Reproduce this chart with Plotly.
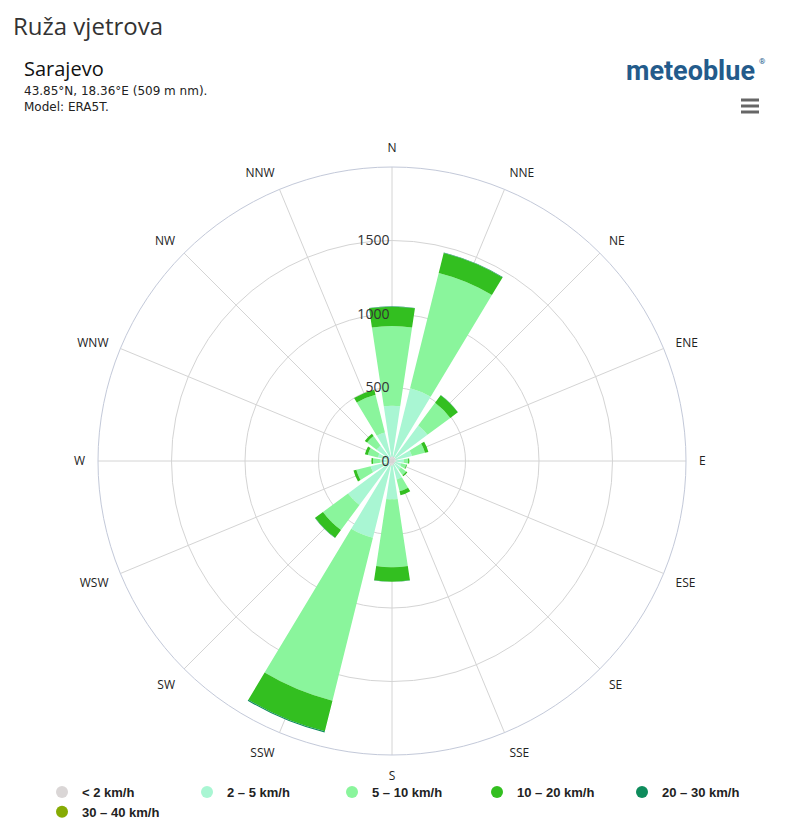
import plotly.graph_objects as go

directions = ["N", "NNE", "NE", "ENE", "E", "ESE", "SE", "SSE",
              "S", "SSW", "SW", "WSW", "W", "WNW", "NW", "NNW"]

speed_bins = ["< 2 km/h", "2 – 5 km/h", "5 – 10 km/h",
              "10 – 20 km/h", "20 – 30 km/h", "30 – 40 km/h"]

# hours per direction for each speed bin
calm_lt2 = [30, 30, 30, 25, 25, 20, 20, 25, 30, 35, 30, 25, 20, 20, 25, 30]
s_2_5 = [346, 480, 270, 115, 55, 45, 55, 105, 231, 503, 342, 125, 60, 80, 105, 170]
s_5_10 = [542, 808, 193, 91, 30, 35, 45, 82, 462, 1142, 212, 100, 50, 70, 81, 265]
s_10_20 = [132, 140, 64, 24, 8, 5, 10, 28, 98, 215, 66, 20, 10, 20, 19, 35]
s_20_30 = [2, 3, 1, 0, 0, 0, 0, 0, 1, 8, 2, 0, 0, 0, 0, 0]
s_30_40 = [0, 0, 0, 0, 0, 0, 0, 0, 0, 0, 0, 0, 0, 0, 0, 0]

series = [calm_lt2, s_2_5, s_5_10, s_10_20, s_20_30, s_30_40]
colors = ["#dad6d6", "#a9f6d3", "#8af59c", "#33bf20", "#0e8c5c", "#86ab04"]

radial_ticks = [0, 500, 1000, 1500]

# The page body has an 8 px margin, so the figure is 784 x 812 and
# positions below are converted from page pixels to paper fractions.
W, H, OFF = 784, 812, 8


def px(x):
    return (x - OFF) / W


def py(y):
    return 1 - (y - OFF) / H


fig = go.Figure()

for name, vals, col in zip(speed_bins, series, colors):
    fig.add_trace(go.Barpolar(
        r=vals, theta=directions, name=name,
        marker=dict(color=col, line=dict(width=0)),
        width=0.76,
        showlegend=False,
    ))
    # legend entry with round symbol
    fig.add_trace(go.Scatter(
        x=[None], y=[None], mode="markers", name=name,
        marker=dict(symbol="circle", size=13, color=col),
        showlegend=True, hoverinfo="skip",
    ))

CX, CY, R = 392, 461, 294

fig.update_layout(
    width=W, height=H,
    margin=dict(l=0, r=0, t=0, b=0, autoexpand=False),
    paper_bgcolor="white", plot_bgcolor="white",
    font=dict(family="Open Sans, DejaVu Sans, sans-serif", color="#333333"),
    xaxis=dict(visible=False), yaxis=dict(visible=False),
    polar=dict(
        domain=dict(x=[px(CX - R), px(CX + R)], y=[py(CY + R), py(CY - R)]),
        bgcolor="white",
        barmode="stack",
        angularaxis=dict(
            rotation=90, direction="clockwise",
            categoryorder="array", categoryarray=directions,
            showgrid=True, gridcolor="#d4d4d4", gridwidth=1,
            showline=True, linecolor="#c3c9d9", linewidth=1,
            ticks="outside", ticklen=10, tickcolor="rgba(0,0,0,0)",
            tickfont=dict(size=12, color="#222222"),
            layer="below traces",
        ),
        radialaxis=dict(
            range=[0, 2000], tickvals=radial_ticks,
            ticktext=[str(v) for v in radial_ticks],
            angle=90, side="counterclockwise", tickangle=90,
            showgrid=True, gridcolor="#d4d4d4", gridwidth=1,
            showline=False, ticks="",
            tickfont=dict(size=14, color="#333333"),
            layer="above traces",
        ),
    ),
    legend=dict(
        orientation="h", x=px(42), y=py(777), xanchor="left", yanchor="top",
        entrywidth=100, entrywidthmode="pixels",
        bgcolor="rgba(0,0,0,0)",
        font=dict(size=13, color="#222222", family="Liberation Sans, Arial, sans-serif", weight="bold"),
        tracegroupgap=0, itemsizing="constant",
    ),
    annotations=[
        dict(text="Ruža vjetrova", x=px(12), y=py(25), xref="paper", yref="paper",
             xanchor="left", yanchor="middle", showarrow=False, borderpad=0,
             font=dict(size=24, color="#333333")),
        dict(text="Sarajevo", x=px(22), y=py(68), xref="paper", yref="paper",
             xanchor="left", yanchor="middle", showarrow=False,
             font=dict(size=20, color="#111111")),
        dict(text="43.85°N, 18.36°E (509 m nm).", x=px(22), y=py(91), xref="paper", yref="paper",
             xanchor="left", yanchor="middle", showarrow=False,
             font=dict(size=12, color="#222222", family="DejaVu Sans, sans-serif")),
        dict(text="Model: ERA5T.", x=px(22), y=py(107), xref="paper", yref="paper",
             xanchor="left", yanchor="middle", showarrow=False,
             font=dict(size=12, color="#222222", family="DejaVu Sans, sans-serif")),
        dict(text="<b>meteoblue</b>", x=px(757), y=py(71), xref="paper", yref="paper",
             xanchor="right", yanchor="middle", showarrow=False,
             font=dict(size=27, color="#235b8b", family="Roboto, sans-serif")),
        dict(text="®", x=px(757), y=py(62), xref="paper", yref="paper",
             xanchor="left", yanchor="middle", showarrow=False,
             font=dict(size=8, color="#235b8b", family="Roboto, sans-serif")),
    ],
    shapes=[
        dict(type="rect", xref="paper", yref="paper",
             x0=px(741), x1=px(759), y0=py(yy + 1.5), y1=py(yy - 1.5),
             fillcolor="#666666", line=dict(width=0))
        for yy in (100, 106, 112)
    ],
)

fig.write_html("out.html")
